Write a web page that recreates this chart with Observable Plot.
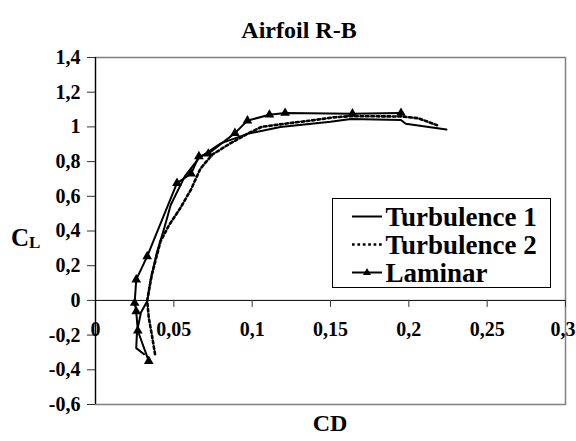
<!DOCTYPE html>
<html>
<head>
<meta charset="utf-8">
<script src="https://cdn.jsdelivr.net/npm/d3@7"></script>
<script src="https://cdn.jsdelivr.net/npm/@observablehq/plot@0.6"></script>
<style>
  html, body { margin: 0; padding: 0; background: white; }
  #wrap { position: relative; width: 576px; height: 441px; font-family: "Liberation Serif", "DejaVu Serif", serif; font-weight: bold; color: black; }
  #wrap svg { display: block; }
  .abs { position: absolute; white-space: nowrap; line-height: 1; }
</style>
</head>
<body>
<div id="wrap"></div>
<script>
// ---- data ----
const t1_cd = [0.031, 0.026, 0.0265, 0.029, 0.033, 0.035, 0.039, 0.044, 0.048, 0.057, 0.066, 0.080, 0.097, 0.118, 0.150, 0.163, 0.195, 0.198, 0.224];
const t1_cl = [-0.31, -0.275, -0.18, -0.07, -0.005, 0.11, 0.27, 0.42, 0.55, 0.715, 0.82, 0.905, 0.96, 1.0, 1.03, 1.045, 1.04, 1.018, 0.985];

const t2_cd = [0.038, 0.036, 0.034, 0.033, 0.036, 0.0415, 0.047, 0.054, 0.061, 0.067, 0.0745, 0.086, 0.098, 0.106, 0.124, 0.137, 0.152, 0.163, 0.195, 0.206, 0.218];
const t2_cl = [-0.31, -0.2, -0.1, 0.0, 0.15, 0.34, 0.435, 0.53, 0.64, 0.76, 0.84, 0.905, 0.965, 1.0, 1.022, 1.036, 1.055, 1.062, 1.06, 1.05, 1.01];

const lam_cd = [0.034, 0.027, 0.026, 0.025, 0.026, 0.033, 0.052, 0.061, 0.066, 0.072, 0.089, 0.097, 0.111, 0.121, 0.164, 0.195];
const lam_cl = [-0.35, -0.175, -0.063, -0.015, 0.12, 0.254, 0.676, 0.73, 0.83, 0.845, 0.964, 1.036, 1.07, 1.08, 1.076, 1.08];

const xTicks = [0, 0.05, 0.1, 0.15, 0.2, 0.25, 0.3];
const yTicks = [-0.6, -0.4, -0.2, 0, 0.2, 0.4, 0.6, 0.8, 1, 1.2, 1.4];
const seriesNames = ["Turbulence 1", "Turbulence 2", "Laminar"];
const titleText = "Airfoil R-B";

// ---- build tables ----
const toRows = (xs, ys) => xs.map((x, i) => ({cd: x, cl: ys[i]}));
const t1 = toRows(t1_cd, t1_cl);
const t2 = toRows(t2_cd, t2_cl);
const lam = toRows(lam_cd, lam_cl);

const fmt = d => String(+d.toFixed(2)).replace(".", ",");
const font = '"Liberation Serif", "DejaVu Serif", serif';
const lastX = xTicks[xTicks.length - 1];

const chart = Plot.plot({
  width: 576,
  height: 441,
  marginLeft: 95,
  marginRight: 11,
  marginTop: 57,
  marginBottom: 37,
  x: {domain: [0, 0.3], axis: null},
  y: {domain: [-0.6, 1.4]},
  style: {fontFamily: font, fontWeight: "bold", fontSize: "20px", background: "white", color: "black", overflow: "visible"},
  marks: [
    Plot.frame({stroke: "#808080", strokeWidth: 1.5}),
    Plot.axisY(yTicks, {tickSize: 8, tickPadding: 7, tickFormat: fmt, fontSize: 20, label: null, stroke: "#333"}),
    Plot.ruleY([0], {stroke: "black", strokeWidth: 1}),
    Plot.ruleX(xTicks.slice(1), {x: d => d, y1: 0, y2: -7 / 173.5, stroke: "#333"}),
    Plot.text(xTicks.filter(d => d !== lastX), {x: d => d, y: 0, dy: 29, text: fmt, fontSize: 20, fill: "black"}),
    Plot.text([lastX], {x: d => d, y: 0, dy: 29, dx: 10, text: fmt, textAnchor: "end", fontSize: 20, fill: "black"}),
    Plot.ruleX([0], {stroke: "black", strokeWidth: 1.2}),
    Plot.line(t1, {x: "cd", y: "cl", stroke: "black", strokeWidth: 2}),
    Plot.line(t2, {x: "cd", y: "cl", stroke: "black", strokeWidth: 2.6, strokeDasharray: "2.7,2.7"}),
    Plot.line(lam, {x: "cd", y: "cl", stroke: "black", strokeWidth: 2}),
    Plot.dot(lam, {x: "cd", y: "cl", symbol: "triangle", r: 3.6, fill: "black", stroke: "none"})
  ]
});

const wrap = document.getElementById("wrap");
wrap.appendChild(chart);

// title
const title = document.createElement("div");
title.className = "abs";
title.textContent = titleText;
title.style.cssText += "left:0;width:598px;text-align:center;top:18px;font-size:24px;";
wrap.appendChild(title);

// axis titles
const xl = document.createElement("div");
xl.className = "abs";
xl.textContent = "CD";
xl.style.cssText += "left:0;width:660px;text-align:center;top:411px;font-size:24px;";
wrap.appendChild(xl);

const yl = document.createElement("div");
yl.className = "abs";
yl.innerHTML = 'C<span style="font-size:17px;position:relative;top:2px;">L</span>';
yl.style.cssText += "left:11px;top:225px;font-size:25px;";
wrap.appendChild(yl);

// legend
const ns = "http://www.w3.org/2000/svg";
const leg = document.createElementNS(ns, "svg");
leg.setAttribute("width", 219);
leg.setAttribute("height", 90);
leg.style.cssText = "position:absolute;left:331.5px;top:197.5px;overflow:visible;";
const rect = document.createElementNS(ns, "rect");
rect.setAttribute("x", 0.5); rect.setAttribute("y", 0.5);
rect.setAttribute("width", 218); rect.setAttribute("height", 89);
rect.setAttribute("fill", "white"); rect.setAttribute("stroke", "black");
leg.appendChild(rect);
const rowsY = [18.5, 46.5, 74.5];
seriesNames.forEach((name, i) => {
  const ln = document.createElementNS(ns, "line");
  ln.setAttribute("x1", 20); ln.setAttribute("x2", 50);
  ln.setAttribute("y1", rowsY[i]); ln.setAttribute("y2", rowsY[i]);
  ln.setAttribute("stroke", "black");
  ln.setAttribute("stroke-width", i === 1 ? 2.6 : 2);
  if (i === 1) ln.setAttribute("stroke-dasharray", "2.7,2.7");
  leg.appendChild(ln);
  if (i === 2) {
    const tri = document.createElementNS(ns, "path");
    const cx = 35, cy = rowsY[i];
    tri.setAttribute("d", `M${cx},${cy - 4.5}L${cx + 4},${cy + 2.5}L${cx - 4},${cy + 2.5}Z`);
    tri.setAttribute("fill", "black");
    leg.appendChild(tri);
  }
  const tx = document.createElementNS(ns, "text");
  tx.setAttribute("x", 53.5);
  tx.setAttribute("y", rowsY[i] + 9);
  tx.setAttribute("style", "font-family:" + font + ";font-weight:bold;font-size:27px;");
  tx.textContent = name;
  leg.appendChild(tx);
});
wrap.appendChild(leg);
</script>
</body>
</html>
